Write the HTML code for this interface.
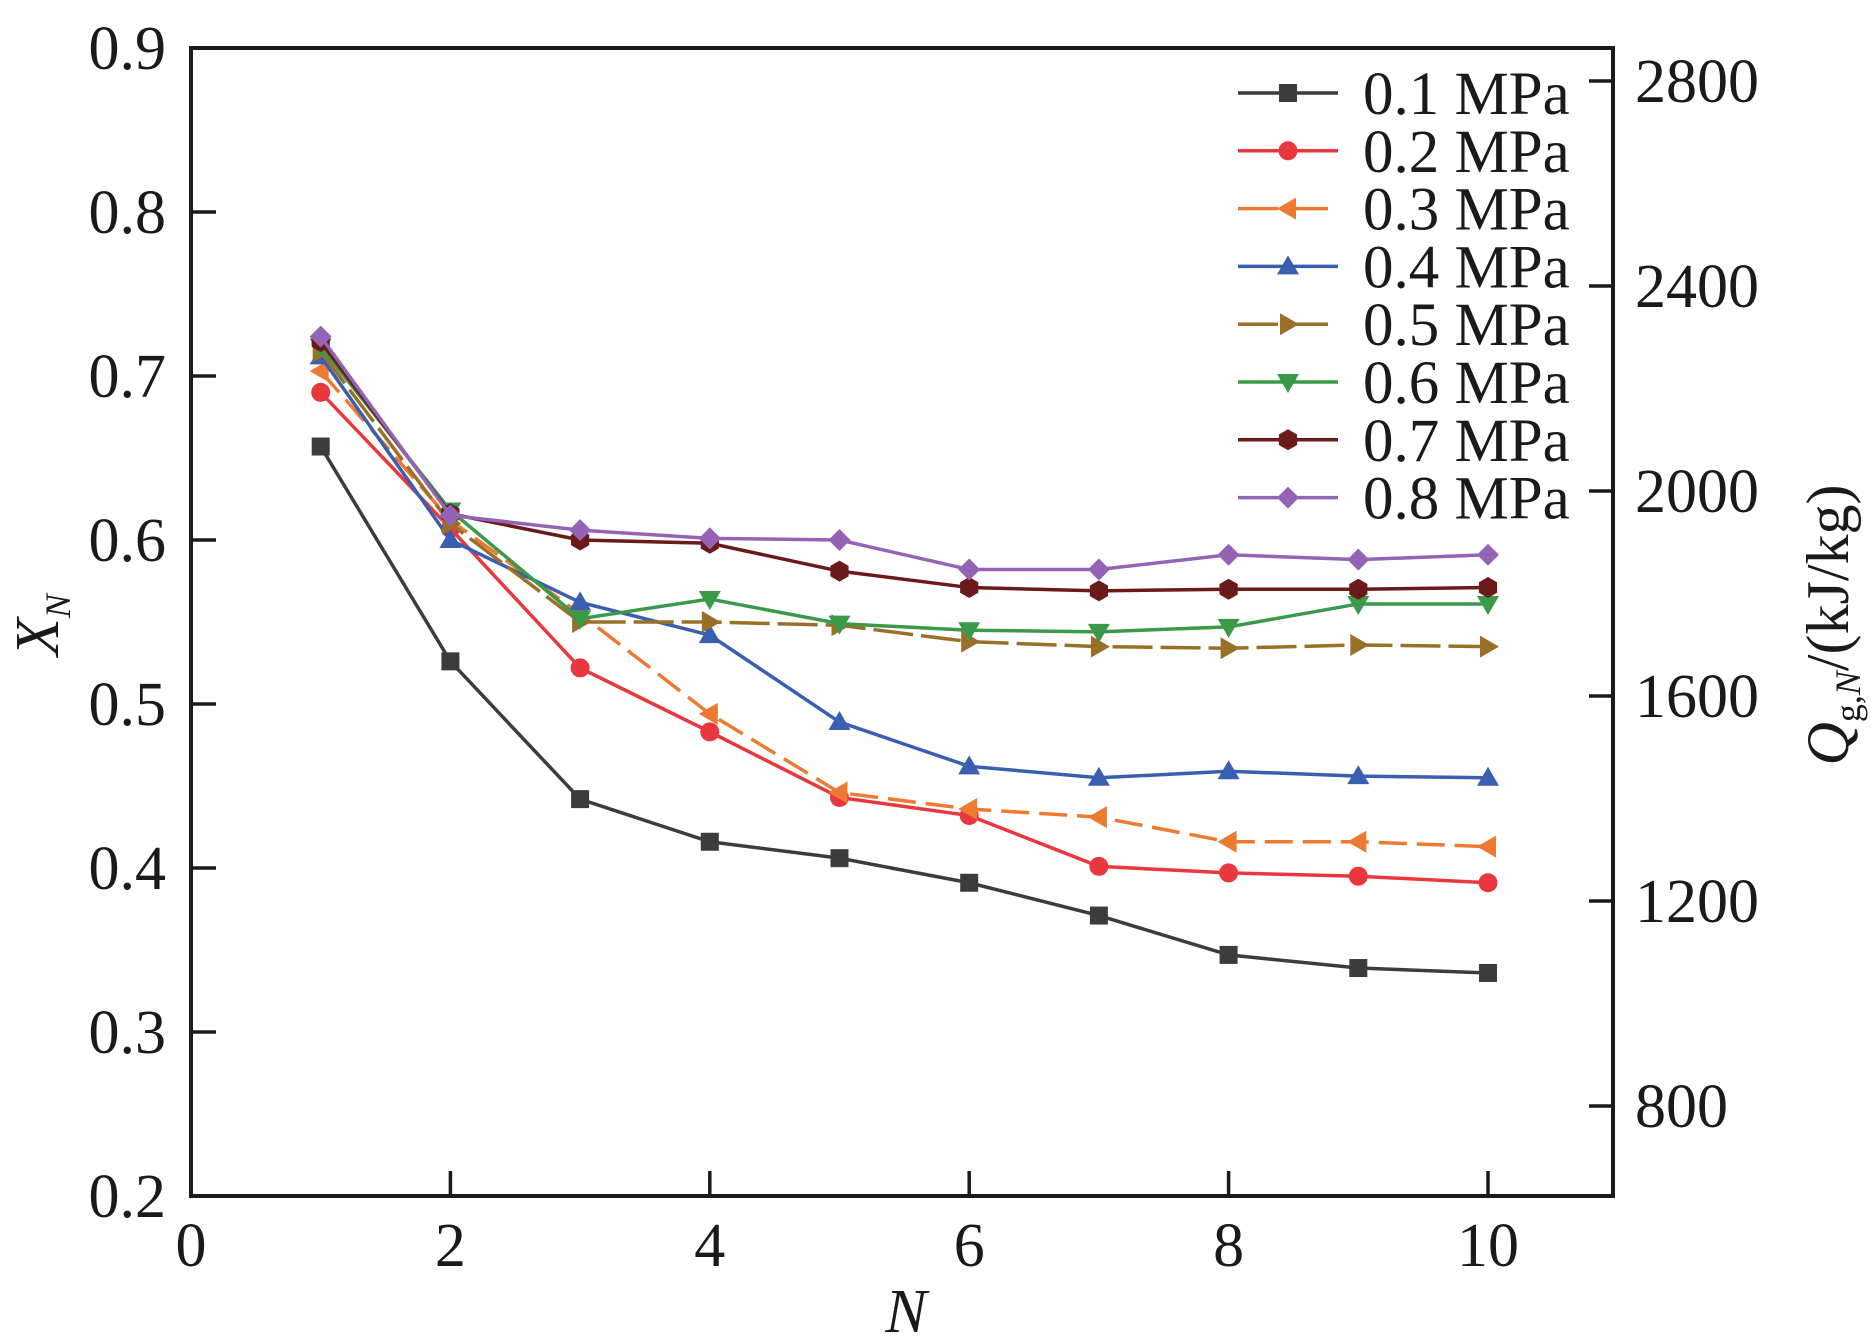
<!DOCTYPE html>
<html><head><meta charset="utf-8"><style>
html,body{margin:0;padding:0;background:#fff;}
svg{display:block;font-family:"Liberation Serif","Times New Roman",serif;}
</style></head><body>
<svg id="chart" width="1871" height="1338" viewBox="0 0 1871 1338"></svg>
<script>
const xCats=[1,2,3,4,5,6,7,8,9,10];
const s01=[0.657,0.526,0.442,0.416,0.406,0.391,0.371,0.347,0.339,0.336];
const s02=[0.690,0.607,0.522,0.483,0.443,0.432,0.401,0.397,0.395,0.391];
const s03=[0.703,0.612,0.555,0.494,0.446,0.436,0.431,0.416,0.416,0.413];
const s04=[0.712,0.600,0.562,0.542,0.489,0.462,0.455,0.459,0.456,0.455];
const s05=[0.715,0.610,0.550,0.550,0.548,0.538,0.535,0.534,0.536,0.535];
const s06=[0.718,0.618,0.552,0.564,0.549,0.545,0.544,0.547,0.561,0.561];
const s07=[0.721,0.616,0.600,0.598,0.581,0.571,0.569,0.570,0.570,0.571];
const s08=[0.724,0.615,0.606,0.601,0.600,0.582,0.582,0.591,0.588,0.591];
const seriesNames=["0.1 MPa","0.2 MPa","0.3 MPa","0.4 MPa","0.5 MPa","0.6 MPa","0.7 MPa","0.8 MPa"];
const xTicks=[0,2,4,6,8,10];
const yTicks=[0.2,0.3,0.4,0.5,0.6,0.7,0.8,0.9];
const y2Ticks=[800,1200,1600,2000,2400,2800];

const NS="http://www.w3.org/2000/svg";
const svg=document.getElementById('chart');
const L=191,R=1613,T=48,B=1196;
const X=v=>L+v*129.7;
const Y=v=>B-(v-0.2)/0.7*(B-T);
const Y2=v=>81+(2800-v)*0.5125;
function mk(tag,attrs,parent){const e=document.createElementNS(NS,tag);for(const k in attrs)e.setAttribute(k,attrs[k]);(parent||svg).appendChild(e);return e;}

const styles=[
 {c:"#3d3b3b",m:"square",d:""},
 {c:"#e8383d",m:"circle",d:""},
 {c:"#ec7a30",m:"left",d:"28,10"},
 {c:"#3a5fb0",m:"up",d:""},
 {c:"#9a7028",m:"right",d:"40,8"},
 {c:"#3a9a4a",m:"down",d:""},
 {c:"#6b1a1a",m:"hex",d:""},
 {c:"#9363b5",m:"diamond",d:""}
];
const allSeries=[s01,s02,s03,s04,s05,s06,s07,s08];

function marker(g,type,x,y,c){
 const r=10;let p;
 if(type==="square")p=mk('rect',{x:x-9,y:y-9,width:18,height:18,fill:c},g);
 else if(type==="circle")p=mk('circle',{cx:x,cy:y,r:9.5,fill:c},g);
 else{
  let pts;
  if(type==="up")pts=[[x,y-r-1],[x+r+1,y+r-2],[x-r-1,y+r-2]];
  else if(type==="down")pts=[[x,y+r+1],[x+r+1,y-r+2],[x-r-1,y-r+2]];
  else if(type==="left")pts=[[x-r-1,y],[x+r-2,y-r-1],[x+r-2,y+r+1]];
  else if(type==="right")pts=[[x+r+1,y],[x-r+2,y-r-1],[x-r+2,y+r+1]];
  else if(type==="diamond")pts=[[x,y-11],[x+11,y],[x,y+11],[x-11,y]];
  else {pts=[];for(let i=0;i<6;i++){const a=Math.PI/6+i*Math.PI/3;pts.push([x+10.5*Math.cos(a),y+10.5*Math.sin(a)]);}}
  p=mk('polygon',{points:pts.map(q=>q.join(',')).join(' '),fill:c},g);
 }
 
 
}

const frame=mk('rect',{x:L,y:T,width:R-L,height:B-T,fill:'none',stroke:'#1a1a1a','stroke-width':4});



xTicks.forEach(v=>{
 const t=mk('line',{x1:X(v),x2:X(v),y1:B,y2:B-25,stroke:'#1a1a1a','stroke-width':3.5});
 
 
 const tx=mk('text',{x:X(v),y:B+70,'font-size':62,'text-anchor':'middle',fill:'#1a1a1a'});
 tx.textContent=v;
 
 
});
yTicks.forEach(v=>{
 const t=mk('line',{x1:L,x2:L+25,y1:Y(v),y2:Y(v),stroke:'#1a1a1a','stroke-width':3.5});
 
 
 const tx=mk('text',{x:L-25,y:Y(v)+21,'font-size':62,'text-anchor':'end',fill:'#1a1a1a'});
 tx.textContent=v.toFixed(1);
 
 
});
y2Ticks.forEach(v=>{
 const t=mk('line',{x1:R,x2:R-24,y1:Y2(v),y2:Y2(v),stroke:'#1a1a1a','stroke-width':3.5});
 
 
 const tx=mk('text',{x:R+22,y:Y2(v)+21,'font-size':62,'text-anchor':'start',fill:'#1a1a1a'});
 tx.textContent=v;
 
 
});

const xt=mk('text',{x:906,y:1332,'font-size':62,'font-style':'italic','text-anchor':'middle',fill:'#1a1a1a'});
xt.textContent='N';


const yt=mk('text',{transform:'translate(58,625) rotate(-90)','font-size':62,'font-style':'italic','text-anchor':'middle',fill:'#1a1a1a'});
yt.innerHTML='X<tspan font-size="36" dy="12">N</tspan>';


const y2t=mk('text',{transform:'translate(1848,625) rotate(-90)','font-size':60,'text-anchor':'middle',fill:'#1a1a1a'});
y2t.innerHTML='<tspan font-style="italic">Q</tspan><tspan font-size="36" dy="12">g,</tspan><tspan font-size="36" font-style="italic">N</tspan><tspan dy="-12">/(kJ/kg)</tspan>';



allSeries.forEach((s,i)=>{
 const st=styles[i];
 const g=mk('g',{});
 
 
 const pts=s.map((v,j)=>X(xCats[j])+','+Y(v)).join(' ');
 const pl=mk('polyline',{points:pts,fill:'none',stroke:st.c,'stroke-width':3.5,'stroke-dasharray':st.d},g);
 
 
 s.forEach((v,j)=>marker(g,st.m,X(xCats[j]),Y(v),st.c));
});

const lg=mk('g',{});


seriesNames.forEach((n,i)=>{
 const st=styles[i];const y=93+i*57.8;
 const e=mk('g',{},lg);
 
 
 mk('line',{x1:1238,x2:1338,y1:y,y2:y,stroke:st.c,'stroke-width':3.5,'stroke-dasharray':st.d?'40,10':''},e);
 marker(e,st.m,1288,y,st.c);
 const t=mk('text',{x:1363,y:y+21,'font-size':61,fill:'#1a1a1a'},e);
 t.textContent=n;
});
</script>
</body></html>
